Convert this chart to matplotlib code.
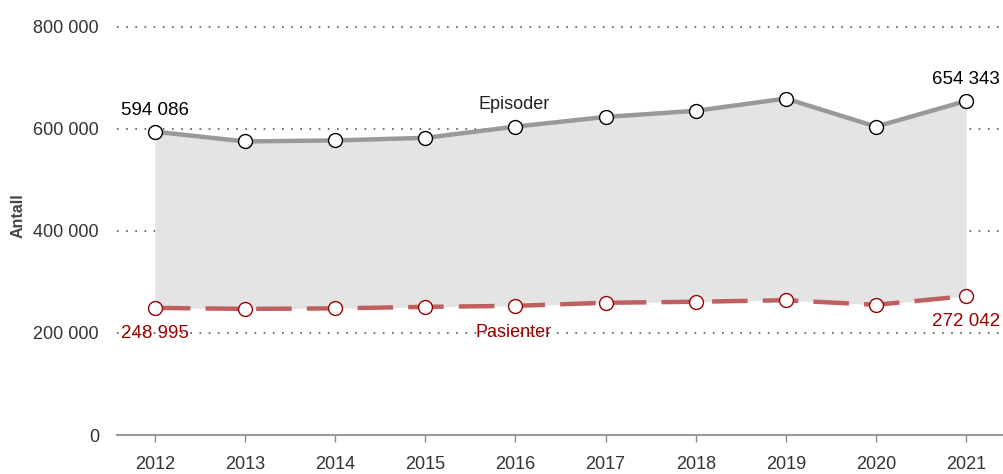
import matplotlib
matplotlib.use("Agg")
import matplotlib.pyplot as plt
import numpy as np

plt.rcParams['font.family'] = ['Liberation Sans', 'DejaVu Sans']

years = [2012, 2013, 2014, 2015, 2016, 2017, 2018, 2019, 2020, 2021]
episoder = [594086, 575000, 577000, 582000, 604000, 623000, 635000, 659000, 604000, 654343]
pasienter = [248995, 247000, 248000, 251000, 253000, 259000, 261000, 264000, 255000, 272042]
yticks = [0, 200000, 400000, 600000, 800000]

fig = plt.figure(figsize=(10.04, 4.74), dpi=100)
ax = fig.add_axes([117 / 1004, 39 / 474, 1 - 117 / 1004, 1 - 39 / 474])

red_line = '#bf5f5f'
dark_red = '#990000'

ax.fill_between(years, pasienter, episoder, color='#e4e4e4', lw=0, zorder=1)
ax.plot(years, episoder, color='#999999', lw=3.2, zorder=3,
        marker='o', ms=10, mfc='white', mec='black', mew=1.0)
ax.plot(years, pasienter, color=red_line, lw=3.2, zorder=3, dashes=(8, 3.4),
        marker='o', ms=10, mfc='white', mec=dark_red, mew=1.0)

# labels on first and last points
fs = 13.5
ax.annotate(f"{episoder[0]:,}".replace(',', ' '), (years[0], episoder[0]),
            xytext=(0, 9), textcoords='offset points', ha='center', va='bottom',
            fontsize=fs, color='black')
ax.annotate(f"{episoder[-1]:,}".replace(',', ' '), (years[-1], episoder[-1]),
            xytext=(0, 9), textcoords='offset points', ha='center', va='bottom',
            fontsize=fs, color='black')
ax.annotate(f"{pasienter[0]:,}".replace(',', ' '), (years[0], pasienter[0]),
            xytext=(0, -12), textcoords='offset points', ha='center', va='top',
            fontsize=fs, color=dark_red)
ax.annotate(f"{pasienter[-1]:,}".replace(',', ' '), (years[-1], pasienter[-1]),
            xytext=(0, -12), textcoords='offset points', ha='center', va='top',
            fontsize=fs, color=dark_red)

# series names
ax.text(2015.98, 648000, "Episoder", ha='center', va='center', fontsize=13, color='#222222')
ax.text(2015.98, 201000, "Pasienter", ha='center', va='center', fontsize=13, color=dark_red)

ax.set_xlim(2011.58, 2021.42)
ax.set_ylim(0, 852000)
ax.set_xticks(years)
ax.set_yticks(yticks)
ax.set_yticklabels([f"{v:,}".replace(',', ' ') for v in yticks])
ax.tick_params(axis='x', length=5, width=1, color='#888888', colors='#333333',
               labelsize=13, pad=10)
ax.tick_params(axis='y', length=0, colors='#333333', labelsize=13, pad=13)

for v in yticks[1:]:
    ax.axhline(v, color='#555555', lw=1.2, ls=(0, (1, 4.5)), zorder=0)

for s in ['top', 'right', 'left']:
    ax.spines[s].set_visible(False)
ax.spines['bottom'].set_color('#999999')
ax.spines['bottom'].set_linewidth(1.5)

fig.text(18 / 1004, 1 - 216 / 474, "Antall", rotation=90, ha='center', va='center',
         fontsize=11.5, fontweight='bold', color='#444444')

fig.savefig("out.png", dpi=100)
